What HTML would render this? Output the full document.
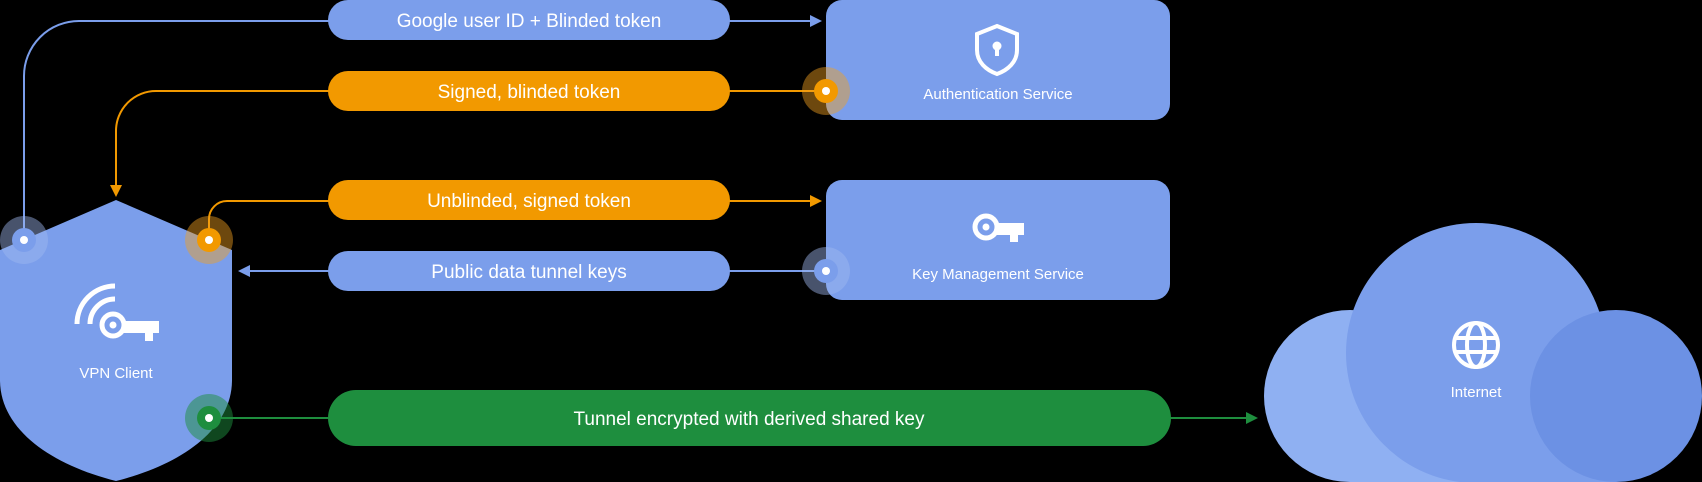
<!DOCTYPE html>
<html><head><meta charset="utf-8"><style>
html,body{margin:0;padding:0;background:#000;width:1702px;height:482px;overflow:hidden}
svg{display:block}
text{font-family:"Liberation Sans",sans-serif;fill:#fff}
</style></head><body>
<svg width="1702" height="482" viewBox="0 0 1702 482">
<!-- connectors -->
<g fill="none" stroke-width="2">
<path d="M24 240 V76 A55 55 0 0 1 79 21 H820" stroke="#7b9eeb"/>
<path d="M116 190 V131 A40 40 0 0 1 156 91 H826" stroke="#f29900"/>
<path d="M209 240 V219 A18 18 0 0 1 227 201 H820" stroke="#f29900"/>
<path d="M826 271 H244" stroke="#7b9eeb"/>
<path d="M209 418 H1250" stroke="#1e8e3e"/>
</g>
<polygon points="822,21 810,15 810,27" fill="#7b9eeb"/>
<polygon points="822,201 810,195 810,207" fill="#f29900"/>
<polygon points="116,197 110,185 122,185" fill="#f29900"/>
<polygon points="238,271 250,265 250,277" fill="#7b9eeb"/>
<polygon points="1258,418 1246,412 1246,424" fill="#1e8e3e"/>
<!-- pills -->
<rect x="328" y="0" width="402" height="40" rx="20" fill="#7b9eeb"/>
<text x="529" y="27" font-size="19" text-anchor="middle">Google user ID + Blinded token</text>
<rect x="328" y="71" width="402" height="40" rx="20" fill="#f29900"/>
<text x="529" y="98" font-size="19" text-anchor="middle">Signed, blinded token</text>
<rect x="328" y="180" width="402" height="40" rx="20" fill="#f29900"/>
<text x="529" y="207" font-size="19" text-anchor="middle">Unblinded, signed token</text>
<rect x="328" y="251" width="402" height="40" rx="20" fill="#7b9eeb"/>
<text x="529" y="278" font-size="19" text-anchor="middle">Public data tunnel keys</text>
<rect x="328" y="390" width="843" height="56" rx="28" fill="#1e8e3e"/>
<text x="749" y="425" font-size="19" text-anchor="middle">Tunnel encrypted with derived shared key</text>
<!-- service boxes -->
<rect x="826" y="0" width="344" height="120" rx="16" fill="#7b9eeb"/>
<path d="M997 26 L1017 34 V50 C1017 62 1008 70 997 74 C986 70 977 62 977 50 V34 Z" fill="none" stroke="#fff" stroke-width="4"/>
<circle cx="997" cy="46" r="4.5" fill="#fff"/><rect x="995" y="47" width="4" height="9" fill="#fff"/>
<text x="998" y="99" font-size="15" text-anchor="middle">Authentication Service</text>
<rect x="826" y="180" width="344" height="120" rx="16" fill="#7b9eeb"/>
<g transform="translate(972,213)">
<circle cx="14" cy="14" r="11" fill="none" stroke="#fff" stroke-width="5"/>
<circle cx="14" cy="14" r="3.5" fill="#fff"/>
<path d="M24 10 H52 V22 H46 V29 H38 V22 H24 Z" fill="#fff"/>
</g>
<text x="998" y="279" font-size="15" text-anchor="middle">Key Management Service</text>
<!-- shield -->
<path d="M116 200 L232 250 V380 C232 430 180 465 116 481 C52 465 0 430 0 380 V250 Z" fill="#7b9eeb"/>
<g transform="translate(75,284)" fill="none" stroke="#fff" stroke-width="5">
<path d="M40 2 A38 38 0 0 0 2 40"/>
<path d="M40 15 A25 25 0 0 0 15 40"/>
<circle cx="38" cy="41" r="11"/>
</g>
<circle cx="113" cy="325" r="3.5" fill="#fff"/>
<path d="M123 321 H159 V333 H153 V341 H145 V333 H123 Z" fill="#fff"/>
<text x="116" y="378" font-size="15" text-anchor="middle">VPN Client</text>
<!-- cloud -->
<circle cx="1350" cy="396" r="86" fill="#8fb0f2"/>
<rect x="1350" y="396" width="126" height="86" fill="#8fb0f2"/>
<circle cx="1476" cy="353" r="130" fill="#7b9eeb"/>
<rect x="1476" y="396" width="140" height="86" fill="#7b9eeb"/>
<circle cx="1616" cy="396" r="86" fill="#6c91e4"/>
<g fill="none" stroke="#fff" stroke-width="4">
<circle cx="1476" cy="345" r="22"/>
<ellipse cx="1476" cy="345" rx="9" ry="22"/>
<line x1="1456" y1="338" x2="1496" y2="338"/>
<line x1="1456" y1="352" x2="1496" y2="352"/>
</g>
<text x="1476" y="397" font-size="15" text-anchor="middle">Internet</text>
<!-- dots -->
<circle cx="24" cy="240" r="24" fill="#9fb8f0" fill-opacity="0.45"/>
<circle cx="24" cy="240" r="12" fill="#7b9eeb"/><circle cx="24" cy="240" r="4" fill="#fff"/>
<circle cx="209" cy="240" r="24" fill="#f2a020" fill-opacity="0.45"/>
<circle cx="209" cy="240" r="12" fill="#f29900"/><circle cx="209" cy="240" r="4" fill="#fff"/>
<circle cx="209" cy="418" r="24" fill="#1e8e3e" fill-opacity="0.5"/>
<circle cx="209" cy="418" r="12" fill="#1e8e3e"/><circle cx="209" cy="418" r="4" fill="#fff"/>
<circle cx="826" cy="91" r="24" fill="#f2a020" fill-opacity="0.45"/>
<circle cx="826" cy="91" r="12" fill="#f29900"/><circle cx="826" cy="91" r="4" fill="#fff"/>
<circle cx="826" cy="271" r="24" fill="#9fb8f0" fill-opacity="0.45"/>
<circle cx="826" cy="271" r="12" fill="#7b9eeb"/><circle cx="826" cy="271" r="4" fill="#fff"/>
</svg>
</body></html>
